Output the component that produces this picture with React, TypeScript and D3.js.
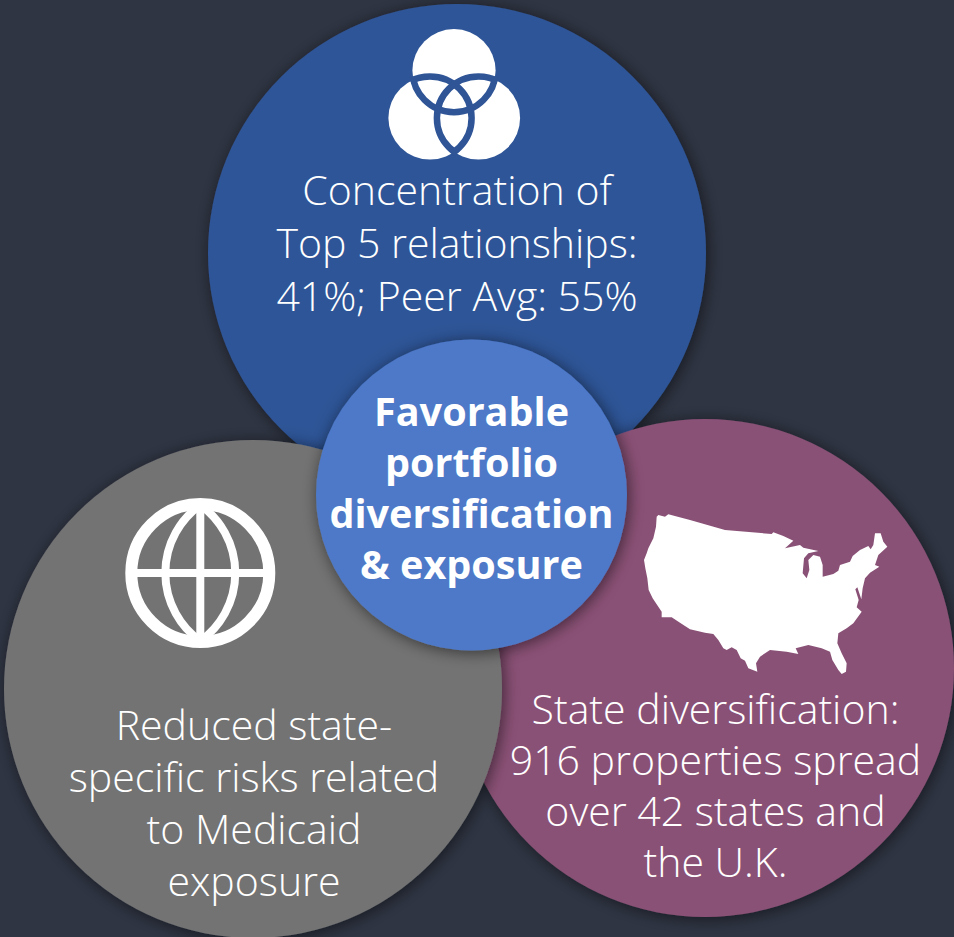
import React from "react";
import * as d3 from "d3";

const WIDTH = 954;
const HEIGHT = 937;

const topLines = ["Concentration of", "Top 5 relationships:", "41%; Peer Avg: 55%"];
const leftLines = ["Reduced state-", "specific risks related", "to Medicaid", "exposure"];
const rightLines = ["State diversification:", "916 properties spread", "over 42 states and", "the U.K."];
const centerLines = ["Favorable", "portfolio", "diversification", "& exposure"];

// outline of the lower 48 (x, y in map units)
const usOutline: [number, number][] = [
  [80, 50], [85, 45], [105, 50], [115, 43], [180, 60], [285, 90], [425, 102], [430, 97],
  [460, 108], [490, 122], [465, 145], [510, 135], [520, 143], [565, 153], [535, 160], [522, 175],
  [518, 220], [530, 235], [538, 210], [535, 180], [550, 165], [570, 170], [578, 195],
  [578, 230], [610, 222], [625, 212], [630, 195], [660, 185], [668, 168], [690, 150], [715, 138],
  [722, 148], [730, 135], [735, 100], [752, 100], [760, 125], [772, 140], [745, 165],
  [735, 195], [748, 200], [720, 218], [705, 235], [698, 265], [694, 298], [682, 262], [676, 268],
  [686, 300], [680, 322], [695, 335], [670, 370], [650, 385], [625, 400], [622, 430], [635, 460],
  [650, 490], [648, 515], [635, 522], [625, 510], [607, 480], [600, 455], [575, 445], [535, 435],
  [497, 445], [505, 462], [470, 455], [420, 450], [390, 470], [378, 490], [382, 515], [355, 505],
  [345, 482], [332, 475], [320, 450], [305, 442], [290, 450], [280, 445], [265, 420], [250, 402],
  [225, 398], [180, 388], [150, 368], [125, 352], [95, 352], [95, 335], [85, 320], [68, 295],
  [56, 270], [52, 235], [46, 205], [42, 180], [50, 160], [55, 145], [70, 115], [78, 80],
];

const FONT = "'Open Sans', 'Noto Sans', sans-serif";

const mapX = d3.scaleLinear().domain([0, 270 * 3]).range([630, 900]);
const mapY = d3.scaleLinear().domain([0, 190 * 3]).range([500, 690]);
const mapPath = d3
  .line<[number, number]>()
  .x((d) => mapX(d[0]))
  .y((d) => mapY(d[1]))
  .curve(d3.curveLinearClosed)(usOutline) as string;

const vennR = 41.6;
const vennCircles = [
  { id: "a", cx: 454, cy: 70.6 },
  { id: "b", cx: 430, cy: 118 },
  { id: "c", cx: 478.5, cy: 118 },
];

const TextBlock = ({ lines, x, y, step, size, weight = 300 }: { lines: string[]; x: number; y: number; step: number; size: number; weight?: number }) => (
  <text textAnchor="middle" fill="#fff" fontFamily={FONT} fontSize={size} fontWeight={weight}>
    {lines.map((l, i) => (
      <tspan key={l} x={x} y={y + i * step}>
        {l}
      </tspan>
    ))}
  </text>
);

const App = () => {
  return (
    <svg
      width={WIDTH}
      height={HEIGHT}
      viewBox={`0 0 ${WIDTH} ${HEIGHT}`}
      style={{ position: "absolute", left: 0, top: 0, display: "block" }}
    >
      <defs>
        <filter id="shadow" x="-15%" y="-15%" width="130%" height="130%">
          <feDropShadow dx="2" dy="2" stdDeviation="8" floodColor="#000" floodOpacity="0.55" />
        </filter>
        {vennCircles.map((c) => (
          <clipPath id={`others-${c.id}`} key={c.id}>
            {vennCircles
              .filter((o) => o.id !== c.id)
              .map((o) => (
                <circle key={o.id} cx={o.cx} cy={o.cy} r={vennR + 3} />
              ))}
          </clipPath>
        ))}
      </defs>
      <rect width={WIDTH} height={HEIGHT} fill="#2f3543" />

      <circle cx={457} cy={253} r={249} fill="#2f5597" filter="url(#shadow)" />
      <circle cx={705} cy={668} r={249} fill="#8a5176" filter="url(#shadow)" />
      <circle cx={253} cy={689} r={249} fill="#737373" filter="url(#shadow)" />
      <circle cx={471.5} cy={495} r={155.5} fill="#4e79c8" filter="url(#shadow)" />

      {/* venn icon */}
      <g>
        {vennCircles.map((c) => (
          <circle key={c.id} cx={c.cx} cy={c.cy} r={vennR} fill="#fff" />
        ))}
        {vennCircles.map((c) => (
          <circle
            key={c.id}
            cx={c.cx}
            cy={c.cy}
            r={vennR}
            fill="none"
            stroke="#2f5597"
            strokeWidth={6.5}
            clipPath={`url(#others-${c.id})`}
          />
        ))}
      </g>

      {/* globe icon */}
      <g fill="none" stroke="#fff">
        <circle cx={200.3} cy={573} r={69} strokeWidth={12} />
        <line x1={200.3} x2={200.3} y1={505} y2={641} strokeWidth={8} />
        <line x1={133} x2={267} y1={573} y2={573} strokeWidth={8} />
        <path d="M200.3,505 A83.6,83.6 0 0 0 200.3,641 A83.6,83.6 0 0 0 200.3,505 Z" strokeWidth={8} />
      </g>

      <path d={mapPath} fill="#fff" />

      <TextBlock lines={topLines} x={457} y={205} step={53} size={41} />
      <TextBlock lines={leftLines} x={254} y={740} step={52} size={41} />
      <TextBlock lines={rightLines} x={715.5} y={724} step={51} size={41} />
      <TextBlock lines={centerLines} x={471.5} y={426} step={51} size={39.6} weight={700} />
    </svg>
  );
};

export default App;
